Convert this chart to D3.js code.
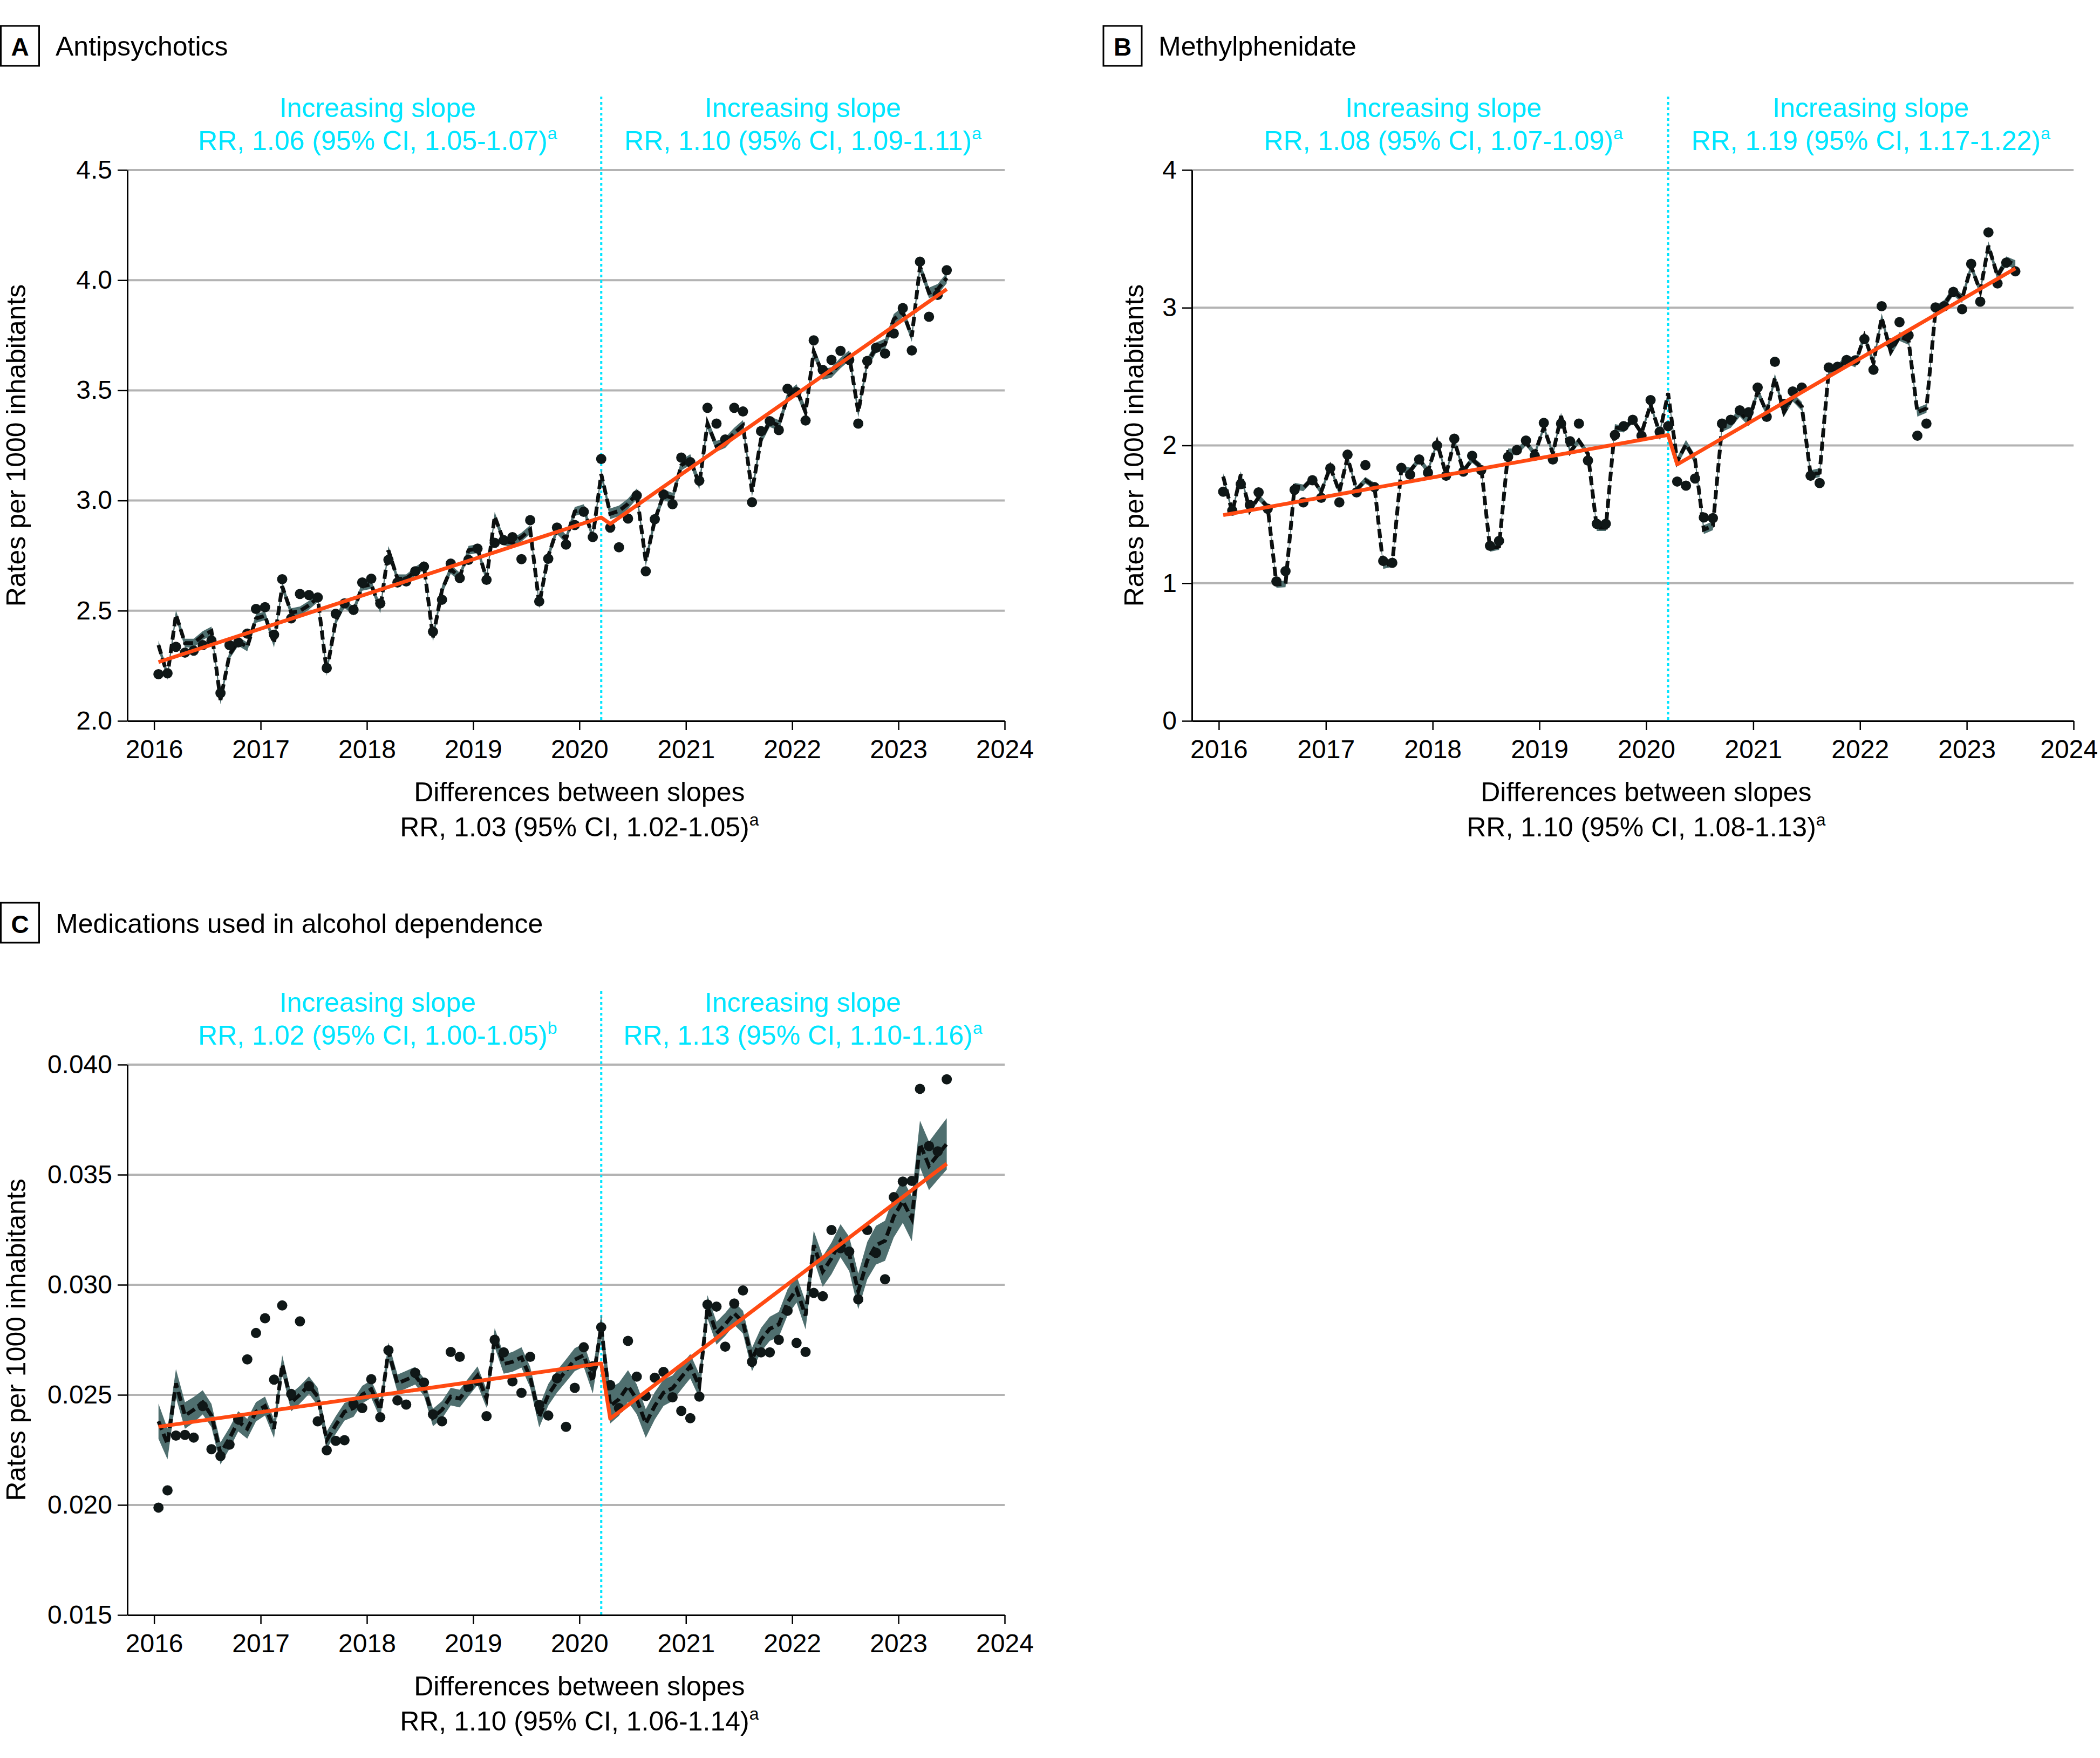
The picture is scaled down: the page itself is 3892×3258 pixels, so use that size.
<!DOCTYPE html>
<html><head><meta charset="utf-8">
<script src="https://cdn.jsdelivr.net/npm/d3@7"></script>
<style>body{margin:0;background:#fff}svg{display:block}</style>
</head><body>
<svg id="chart" width="3892" height="3258"></svg>
<script>
// ---------- categories: monthly observations Jan 2016 - Jun 2023 ----------
const months = d3.timeMonth.range(new Date(2016,0,1), new Date(2023,6,1))
  .map(d => new Date(d.getFullYear(), d.getMonth(), 16));
const breakIndex = 50;            // March 2020
const trendIndex = [0, 50, 51, 89];
const xTickYears = [2016,2017,2018,2019,2020,2021,2022,2023,2024];

// ---------- Panel A: Antipsychotics ----------
const obsA = [2.212,2.216,2.336,2.310,2.319,2.344,2.365,2.126,2.344,2.356,2.396,2.508,
  2.516,2.391,2.643,2.465,2.576,2.571,2.560,2.240,2.486,2.533,2.504,2.628,
  2.645,2.533,2.731,2.628,2.633,2.679,2.700,2.405,2.550,2.714,2.648,2.731,
  2.782,2.640,2.808,2.820,2.834,2.734,2.911,2.542,2.736,2.877,2.800,2.889,
  2.949,2.834,3.189,2.877,2.788,2.918,3.023,2.679,2.915,3.028,2.983,3.195,
  3.174,3.090,3.421,3.349,3.277,3.421,3.404,2.992,3.315,3.360,3.320,3.507,
  3.492,3.363,3.727,3.593,3.638,3.679,3.638,3.349,3.633,3.693,3.667,3.758,
  3.873,3.681,4.084,3.834,3.933,4.045];
const fitA = [2.344,2.207,2.482,2.353,2.353,2.387,2.408,2.095,2.301,2.361,2.336,2.465,
  2.477,2.353,2.611,2.491,2.499,2.525,2.559,2.224,2.456,2.533,2.499,2.611,
  2.619,2.508,2.774,2.645,2.645,2.679,2.705,2.379,2.594,2.688,2.653,2.774,
  2.782,2.645,2.928,2.817,2.808,2.834,2.868,2.530,2.748,2.868,2.825,2.950,
  2.963,2.834,3.120,2.940,2.953,2.985,3.031,2.725,2.911,3.026,3.011,3.160,
  3.186,3.074,3.349,3.246,3.263,3.306,3.341,3.040,3.280,3.358,3.341,3.469,
  3.504,3.401,3.676,3.572,3.581,3.624,3.658,3.401,3.624,3.693,3.710,3.822,
  3.856,3.744,4.062,3.942,3.959,4.010];
const ciHalfA = [0.020, 0.024];           // pre, post
const trendA = [2.267, 2.923, 2.894, 3.959];
const yTicksA = [2.0, 2.5, 3.0, 3.5, 4.0, 4.5];

// ---------- Panel B: Methylphenidate ----------
const obsB = [1.664,1.527,1.719,1.568,1.659,1.541,1.013,1.087,1.678,1.587,1.747,1.620,
  1.834,1.587,1.933,1.659,1.857,1.697,1.161,1.148,1.837,1.788,1.898,1.802,
  2.000,1.780,2.049,1.810,1.925,1.821,1.271,1.307,1.917,1.967,2.035,1.925,
  2.164,1.898,2.159,2.030,2.159,1.890,1.431,1.431,2.076,2.140,2.186,2.071,
  2.329,2.098,2.140,1.738,1.708,1.760,1.477,1.472,2.159,2.186,2.255,2.241,
  2.420,2.208,2.607,2.302,2.392,2.420,1.780,1.727,2.566,2.571,2.620,2.618,
  2.772,2.549,3.011,2.741,2.895,2.799,2.071,2.159,3.002,3.011,3.115,2.989,
  3.318,3.044,3.547,3.176,3.327,3.264];
const fitB = [1.774,1.513,1.788,1.527,1.623,1.554,0.991,0.995,1.705,1.692,1.760,1.664,
  1.843,1.664,1.912,1.678,1.747,1.705,1.128,1.142,1.829,1.815,1.898,1.815,
  2.021,1.788,2.035,1.815,1.898,1.843,1.252,1.266,1.953,1.953,2.021,1.939,
  2.131,1.939,2.214,1.953,2.035,1.939,1.403,1.403,2.131,2.118,2.186,2.090,
  2.296,2.090,2.379,1.884,2.008,1.898,1.389,1.417,2.131,2.159,2.241,2.173,
  2.392,2.241,2.489,2.241,2.351,2.283,1.788,1.802,2.544,2.557,2.626,2.599,
  2.791,2.599,2.928,2.681,2.791,2.763,2.241,2.269,2.983,3.024,3.121,3.066,
  3.299,3.121,3.450,3.231,3.340,3.313];
const ciHalfB = [0.024, 0.032];
const trendB = [1.494, 2.076, 1.862, 3.285];
const yTicksB = [0, 1, 2, 3, 4];

// ---------- Panel C: Medications used in alcohol dependence ----------
const obsC = [0.01988,0.02066,0.02315,0.02318,0.02306,0.02449,0.02253,0.02222,0.02274,0.02389,0.02661,0.02781,
  0.02848,0.02569,0.02906,0.02504,0.02834,0.02540,0.02380,0.02248,0.02291,0.02294,0.02458,0.02440,
  0.02571,0.02398,0.02702,0.02475,0.02456,0.02600,0.02556,0.02411,0.02380,0.02695,0.02673,0.02537,
  0.02564,0.02403,0.02750,0.02693,0.02561,0.02509,0.02673,0.02454,0.02406,0.02575,0.02355,0.02532,
  0.02716,0.02630,0.02807,0.02544,0.02440,0.02745,0.02583,0.02495,0.02578,0.02604,0.02489,0.02427,
  0.02394,0.02492,0.02910,0.02901,0.02719,0.02915,0.02974,0.02650,0.02693,0.02693,0.02750,0.02882,
  0.02736,0.02695,0.02963,0.02948,0.03249,0.03166,0.03151,0.02934,0.03249,0.03145,0.03025,0.03398,
  0.03469,0.03472,0.03890,0.03630,0.03606,0.03933];
const fitC = [0.02380,0.02277,0.02552,0.02406,0.02432,0.02466,0.02406,0.02234,0.02303,0.02380,0.02346,0.02423,
  0.02449,0.02346,0.02638,0.02466,0.02501,0.02544,0.02492,0.02294,0.02363,0.02423,0.02440,0.02501,
  0.02526,0.02432,0.02698,0.02552,0.02569,0.02587,0.02535,0.02397,0.02432,0.02492,0.02483,0.02535,
  0.02587,0.02483,0.02760,0.02640,0.02650,0.02670,0.02580,0.02400,0.02500,0.02560,0.02610,0.02660,
  0.02680,0.02560,0.02810,0.02450,0.02480,0.02540,0.02480,0.02370,0.02450,0.02510,0.02530,0.02580,
  0.02630,0.02540,0.02900,0.02780,0.02820,0.02870,0.02830,0.02660,0.02750,0.02800,0.02820,0.02920,
  0.02980,0.02860,0.03180,0.03060,0.03120,0.03200,0.03140,0.02970,0.03110,0.03180,0.03200,0.03310,
  0.03380,0.03300,0.03640,0.03540,0.03590,0.03640];
const ciHalfC = [0.00080,0.00070,0.00065,0.00060,0.00058,0.00055,0.00053,0.00050,0.00048,0.00046,0.00045,0.00044,
  0.00043,0.00042,0.00042,0.00041,0.00040,0.00040,0.00040,0.00040,0.00040,0.00040,0.00040,0.00040,
  0.00040,0.00040,0.00040,0.00040,0.00040,0.00040,0.00040,0.00040,0.00040,0.00040,0.00040,0.00041,
  0.00042,0.00042,0.00043,0.00044,0.00045,0.00046,0.00047,0.00048,0.00049,0.00050,0.00051,0.00052,
  0.00053,0.00054,0.00056,0.00080,0.00075,0.00072,0.00068,0.00065,0.00062,0.00060,0.00058,0.00056,
  0.00055,0.00054,0.00053,0.00052,0.00052,0.00052,0.00052,0.00053,0.00054,0.00055,0.00057,0.00059,
  0.00061,0.00063,0.00066,0.00069,0.00072,0.00075,0.00078,0.00081,0.00085,0.00088,0.00091,0.00095,
  0.00099,0.00102,0.00106,0.00110,0.00113,0.00117];
const trendC = [0.02355, 0.02643, 0.02392, 0.03550];
const yTicksC = [0.015, 0.020, 0.025, 0.030, 0.035, 0.040];

// ---------- texts ----------
const panels = [
  {letter:"A", title:"Antipsychotics", obs:obsA, fit:fitA, ci:i => (i <= breakIndex ? ciHalfA[0] : ciHalfA[1]),
   trend:trendA, yTicks:yTicksA, fmt:d3.format(".1f"),
   left:236, right:1862, top:315, bottom:1336, boxX:1.5, boxY:48, titleX:103, titleY:103, yLabelX:47,
   pre:["RR, 1.06 (95% CI, 1.05-1.07)","a"], post:["RR, 1.10 (95% CI, 1.09-1.11)","a"],
   diff:["RR, 1.03 (95% CI, 1.02-1.05)","a"]},
  {letter:"B", title:"Methylphenidate", obs:obsB, fit:fitB, ci:i => (i <= breakIndex ? ciHalfB[0] : ciHalfB[1]),
   trend:trendB, yTicks:yTicksB, fmt:d3.format("d"),
   left:2209, right:3843, top:315, bottom:1336, boxX:2045, boxY:48, titleX:2147, titleY:103, yLabelX:2119,
   pre:["RR, 1.08 (95% CI, 1.07-1.09)","a"], post:["RR, 1.19 (95% CI, 1.17-1.22)","a"],
   diff:["RR, 1.10 (95% CI, 1.08-1.13)","a"]},
  {letter:"C", title:"Medications used in alcohol dependence", obs:obsC, fit:fitC, ci:i => ciHalfC[i],
   trend:trendC, yTicks:yTicksC, fmt:d3.format(".3f"),
   left:236, right:1862, top:1973, bottom:2993, boxX:1.5, boxY:1673, titleX:103, titleY:1729, yLabelX:47,
   pre:["RR, 1.02 (95% CI, 1.00-1.05)","b"], post:["RR, 1.13 (95% CI, 1.10-1.16)","a"],
   diff:["RR, 1.10 (95% CI, 1.06-1.14)","a"]}
];

const FONT = "'Liberation Sans', Arial, sans-serif";
const CYAN = "#00E5FF", ORANGE = "#FF4A12", BAND = "#4f6f6f", INK = "#0f1717", GRID = "#b3b3b3";
const svg = d3.select("#chart").style("font-family", FONT);

function addText(g, x, y, parts, opts) {
  const t = g.append("text").attr("x", x).attr("y", y)
    .attr("text-anchor", opts.anchor || "middle")
    .attr("font-size", opts.size || 50).attr("fill", opts.fill || "#000");
  if (opts.transform) t.attr("transform", opts.transform);
  t.append("tspan").text(parts[0]);
  if (parts[1]) t.append("tspan").attr("font-size", 32).attr("dy", -20).text(parts[1]);
  return t;
}

panels.forEach(p => {
  const g = svg.append("g");
  const x = d3.scaleTime().domain([new Date(2015,9,1), new Date(2024,0,1)]).range([p.left, p.right]);
  const y = d3.scaleLinear().domain([p.yTicks[0], p.yTicks[p.yTicks.length-1]]).range([p.bottom, p.top]);

  // heading
  g.append("rect").attr("x", p.boxX).attr("y", p.boxY).attr("width", 71).attr("height", 74)
    .attr("fill", "none").attr("stroke", "#000").attr("stroke-width", 3);
  g.append("text").attr("x", p.boxX + 35.5).attr("y", p.titleY).attr("text-anchor", "middle")
    .attr("font-size", 46).attr("font-weight", "bold").text(p.letter);
  g.append("text").attr("x", p.titleX).attr("y", p.titleY).attr("font-size", 50).text(p.title);

  // gridlines
  g.append("g").selectAll("line").data(p.yTicks.slice(1)).join("line")
    .attr("x1", p.left).attr("x2", p.right).attr("y1", d => y(d)).attr("y2", d => y(d))
    .attr("stroke", GRID).attr("stroke-width", 4);

  // interruption line
  const xb = x(months[breakIndex]);
  g.append("line").attr("x1", xb).attr("x2", xb).attr("y1", p.top - 136).attr("y2", p.bottom)
    .attr("stroke", CYAN).attr("stroke-width", 4).attr("stroke-dasharray", "5,5");

  // slope annotations
  const x16 = x(new Date(2016,0,1)), x24 = x(new Date(2024,0,1));
  [[ (x16 + xb) / 2, p.pre ], [ (xb + x24) / 2, p.post ]].forEach(([cx, txt]) => {
    addText(g, cx, p.top - 98, ["Increasing slope"], {fill: CYAN});
    addText(g, cx, p.top - 37, txt, {fill: CYAN});
  });

  // CI band
  const idx = d3.range(months.length);
  g.append("path").datum(idx)
    .attr("d", d3.area().x(i => x(months[i])).y0(i => y(p.fit[i] - p.ci(i))).y1(i => y(p.fit[i] + p.ci(i))))
    .attr("fill", BAND);
  // fitted dashed line
  g.append("path").datum(idx)
    .attr("d", d3.line().x(i => x(months[i])).y(i => y(p.fit[i])))
    .attr("fill", "none").attr("stroke", "#0b0f0f").attr("stroke-width", 7).attr("stroke-dasharray", "17,8");
  // observed dots
  g.append("g").selectAll("circle").data(idx).join("circle")
    .attr("cx", i => x(months[i])).attr("cy", i => y(p.obs[i])).attr("r", 9.5).attr("fill", INK);
  // segmented trend
  g.append("path").datum(trendIndex.map((k, j) => [k, p.trend[j]]))
    .attr("d", d3.line().x(d => x(months[d[0]])).y(d => y(d[1])))
    .attr("fill", "none").attr("stroke", ORANGE).attr("stroke-width", 7).attr("stroke-linejoin", "round");

  // axes
  const yAxis = g.append("g").attr("transform", `translate(${p.left},0)`)
    .call(d3.axisLeft(y).tickValues(p.yTicks).tickFormat(p.fmt).tickSize(18).tickSizeOuter(0).tickPadding(10));
  const xAxis = g.append("g").attr("transform", `translate(0,${p.bottom})`)
    .call(d3.axisBottom(x).tickValues(xTickYears.map(v => new Date(v,0,1))).tickFormat(d3.timeFormat("%Y"))
      .tickSize(17).tickSizeOuter(0).tickPadding(18));
  [yAxis, xAxis].forEach(a => {
    a.select(".domain").attr("stroke", "#000").attr("stroke-width", 3);
    a.selectAll(".tick line").attr("stroke", "#000").attr("stroke-width", 2.5);
    a.selectAll(".tick text").attr("font-size", 48).attr("font-family", FONT).attr("fill", "#000");
  });
  // keep the last year label inside the page
  xAxis.selectAll(".tick text").each(function() {
    const b = this.getBBox();
    const tx = +d3.select(this.parentNode).attr("transform").match(/translate\(([-\d.]+)/)[1];
    const overflow = tx + b.x + b.width - 3888;
    if (overflow > 0) d3.select(this).attr("x", -overflow);
  });

  // axis titles
  addText(g, p.yLabelX, (p.top + p.bottom) / 2, ["Rates per 1000 inhabitants"],
    {transform: `rotate(-90, ${p.yLabelX}, ${(p.top + p.bottom) / 2})`});
  const cx = (x16 + x24) / 2;
  addText(g, cx, p.bottom + 149, ["Differences between slopes"], {});
  addText(g, cx, p.bottom + 214, p.diff, {});
});
</script>
</body></html>
